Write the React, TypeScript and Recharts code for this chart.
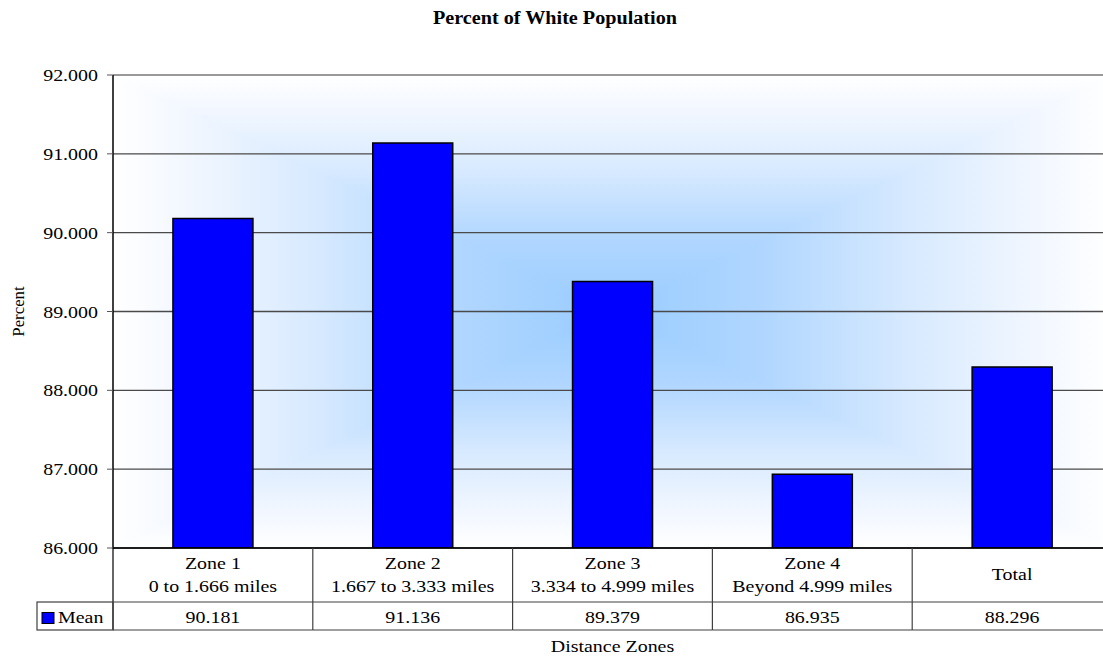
import React from 'react';
import { BarChart, Bar, XAxis, YAxis, CartesianGrid } from 'recharts';

// ---------- data ----------
const categories = ['Zone 1', 'Zone 2', 'Zone 3', 'Zone 4', 'Total'];
const subLabels = ['0 to 1.666 miles', '1.667 to 3.333 miles', '3.334 to 4.999 miles', 'Beyond 4.999 miles', ''];
const meanValues = [90.181, 91.136, 89.379, 86.935, 88.296];
const yTicks = [86, 87, 88, 89, 90, 91, 92];
const seriesName = 'Mean';
const title = 'Percent of White Population';
const yTitle = 'Percent';
const xTitle = 'Distance Zones';

const data = categories.map((c, i) => ({ name: c, mean: meanValues[i] }));

// ---------- layout ----------
const CW = 1130;
const CH = 656;
const MARGIN = { top: 75, right: 18, bottom: 0, left: 0 };
const Y_W = 113;
const X_H = 108;
const PL = MARGIN.left + Y_W;
const PR = CW - MARGIN.right;
const PT = MARGIN.top;
const PB = CH - MARGIN.bottom - X_H;
const CX = (PL + PR) / 2;
const CY = (PT + PB) / 2;
const COL_W = (PR - PL) / categories.length;

const FONT = "'Liberation Serif', 'Times New Roman', serif";
const FS = 17.5;
const SX = 1.14;
const BLUE = '#0000FF';

function SText({ x, y, anchor = 'middle', size = FS, weight = 'normal', sx = SX, children }: any) {
  return (
    <text
      transform={`translate(${x},${y}) scale(${sx},1)`}
      textAnchor={anchor}
      fontSize={size}
      fontFamily={FONT}
      fontWeight={weight}
      fill="#000"
    >
      {children}
    </text>
  );
}

const fmt = (v: number) => v.toFixed(3);

function YTick(props: any) {
  const { x, y, payload } = props;
  return <SText x={x} y={y + 6} anchor="end">{fmt(payload.value)}</SText>;
}

function XTick(props: any) {
  const { x, index } = props;
  const left = x - COL_W / 2;
  const right = x + COL_W / 2;
  const top = PB;
  const mid = PB + 54;
  const bot = PB + 82;
  const line = '#404040';
  const sub = subLabels[index];
  return (
    <g>
      {index === 0 && (
        <g>
          <line x1={left} y1={top} x2={left} y2={bot} stroke="#000" strokeWidth={1.2} />
          <rect x={left - 76} y={mid} width={76} height={bot - mid} fill="none" stroke={line} strokeWidth={1.2} />
          <rect x={left - 71} y={mid + 10.5} width={12} height={11} fill={BLUE} stroke="#000" strokeWidth={1} />
          <SText x={left - 55} y={mid + 21} anchor="start">{seriesName}</SText>
        </g>
      )}
      <line x1={right} y1={top} x2={right} y2={bot} stroke={line} strokeWidth={1.2} />
      <line x1={left} y1={mid} x2={right} y2={mid} stroke={line} strokeWidth={1.2} />
      <line x1={left} y1={bot} x2={right} y2={bot} stroke={line} strokeWidth={1.2} />
      {sub ? (
        <g>
          <SText x={x} y={top + 21}>{categories[index]}</SText>
          <SText x={x} y={top + 44}>{sub}</SText>
        </g>
      ) : (
        <SText x={x} y={top + 32}>{categories[index]}</SText>
      )}
      <SText x={x} y={mid + 21}>{fmt(meanValues[index])}</SText>
    </g>
  );
}

const stops = [
  { o: 0, c: '#FFFFFF' },
  { o: 0.15, c: '#F2F7FF' },
  { o: 0.4, c: '#D8EAFF' },
  { o: 0.7, c: '#B0D6FF' },
  { o: 1, c: '#99CCFF' },
];

const renderStops = () => stops.map((s, i) => <stop key={i} offset={s.o} stopColor={s.c} />);

function gridLine(props: any) {
  const { x1, y1, x2, y2, key } = props;
  const isTop = Math.abs(y1 - PT) < 1;
  return (
    <line
      key={key ?? `h-${y1}`}
      x1={x1}
      y1={y1}
      x2={x2}
      y2={y2}
      stroke={isTop ? '#9a9a9a' : '#4a4a4a'}
      strokeWidth={isTop ? 2 : 1.3}
    />
  );
}

export default function App() {
  return (
    <div style={{ position: 'absolute', left: 0, top: 0, width: 1103, height: 656, overflow: 'hidden', background: '#fff' }}>
      <div
        style={{
          position: 'absolute',
          left: 0,
          top: 6,
          width: 1110,
          textAlign: 'center',
          fontFamily: FONT,
          fontWeight: 'bold',
          fontSize: 18,
          transform: 'scaleX(1.12)',
          transformOrigin: '555px 0',
          lineHeight: '24px',
        }}
      >
        {title}
      </div>
      <div style={{ position: 'absolute', left: 0, top: 0 }}>
        <BarChart width={CW} height={CH} data={data} margin={MARGIN} barCategoryGap="30%">
          <defs>
            <linearGradient id="gT" gradientUnits="userSpaceOnUse" x1={0} y1={PT} x2={0} y2={CY}>{renderStops()}</linearGradient>
            <linearGradient id="gB" gradientUnits="userSpaceOnUse" x1={0} y1={PB} x2={0} y2={CY}>{renderStops()}</linearGradient>
            <linearGradient id="gL" gradientUnits="userSpaceOnUse" x1={PL} y1={0} x2={CX} y2={0}>{renderStops()}</linearGradient>
            <linearGradient id="gR" gradientUnits="userSpaceOnUse" x1={PR} y1={0} x2={CX} y2={0}>{renderStops()}</linearGradient>
            <pattern id="bgPat" patternUnits="userSpaceOnUse" x={0} y={0} width={CW} height={CH}>
              <polygon points={`${PL},${PT} ${PR},${PT} ${CX},${CY}`} fill="url(#gT)" stroke="url(#gT)" strokeWidth={1} />
              <polygon points={`${PL},${PB} ${PR},${PB} ${CX},${CY}`} fill="url(#gB)" stroke="url(#gB)" strokeWidth={1} />
              <polygon points={`${PL},${PT} ${PL},${PB} ${CX},${CY}`} fill="url(#gL)" stroke="url(#gL)" strokeWidth={1} />
              <polygon points={`${PR},${PT} ${PR},${PB} ${CX},${CY}`} fill="url(#gR)" stroke="url(#gR)" strokeWidth={1} />
            </pattern>
          </defs>
          <CartesianGrid vertical={false} horizontal={gridLine} fill="url(#bgPat)" fillOpacity={1} stroke="#4a4a4a" />
          <XAxis
            dataKey="name"
            height={X_H}
            axisLine={{ stroke: '#000', strokeWidth: 1.5 }}
            tickLine={false}
            tick={<XTick />}
            interval={0}
            label={{ value: xTitle, content: () => <SText x={CX} y={652}>{xTitle}</SText> }}
          />
          <YAxis
            width={Y_W}
            domain={[86, 92]}
            ticks={yTicks}
            interval={0}
            axisLine={{ stroke: '#000', strokeWidth: 1.5 }}
            tickLine={{ stroke: '#555' }}
            tickSize={6}
            tickMargin={9}
            tick={<YTick />}
            allowDataOverflow
            label={{
              value: yTitle,
              content: () => (
                <text
                  transform={`translate(23.5,${CY}) rotate(-90)`}
                  textAnchor="middle"
                  fontSize={16.8}
                  fontFamily={FONT}
                  fill="#000"
                >
                  {yTitle}
                </text>
              ),
            }}
          />
          <Bar dataKey="mean" name={seriesName} fill={BLUE} stroke="#000" strokeWidth={1.5} isAnimationActive={false} />
        </BarChart>
      </div>
    </div>
  );
}
